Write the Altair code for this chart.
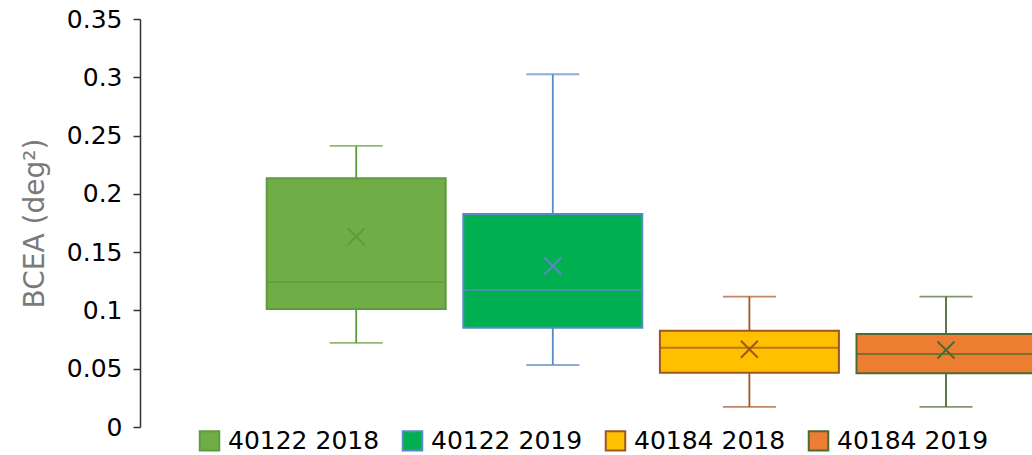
import altair as alt
import pandas as pd

# Box-plot statistics for each recording group
groups = ["40122 2018", "40122 2019", "40184 2018", "40184 2019"]
mins = [0.0721, 0.0532, 0.0172, 0.0172]
q1s = [0.1012, 0.0852, 0.0466, 0.0461]
medians = [0.1244, 0.1175, 0.0680, 0.0626]
q3s = [0.2133, 0.1827, 0.0826, 0.0798]
maxs = [0.2411, 0.3026, 0.1118, 0.1118]
means = [0.1633, 0.1381, 0.0667, 0.0661]

fill_colors = ["#70AD47", "#00B050", "#FFC000", "#ED7D31"]
stroke_colors = ["#5E9B3C", "#5A8AC6", "#A05523", "#4B6A35"]

y_ticks = [0, 0.05, 0.1, 0.15, 0.2, 0.25, 0.3, 0.35]

df = pd.DataFrame({
    "group": groups,
    "lo": mins,
    "q1": q1s,
    "median": medians,
    "q3": q3s,
    "hi": maxs,
    "mean": means,
})

FONT = "DejaVu Sans"

x_enc = alt.X(
    "group:N",
    sort=groups,
    axis=None,
    scale=alt.Scale(range=[126.7, 895.5], paddingInner=0.0895, paddingOuter=0),
)
y_scale = alt.Scale(domain=[0, 0.35], nice=False, zero=True)
y_axis = alt.Axis(
    values=y_ticks,
    format="~g",
    grid=False,
    domainColor="#333333",
    domainWidth=1.5,
    tickColor="#333333",
    tickWidth=1.5,
    tickSize=7,
    labelPadding=11,
    labelFont=FONT,
    labelFontSize=25,
    labelColor="#000000",
    title="BCEA (deg²)",
    titleFont=FONT,
    titleFontSize=28,
    titleFontWeight="normal",
    titleColor="#7a7a7a",
    titleAngle=270,
    titleX=-97,
    titleY=204,
    titleAlign="center",
    titleBaseline="alphabetic",
)

fill_scale = alt.Scale(domain=groups, range=fill_colors)
stroke_scale = alt.Scale(domain=groups, range=stroke_colors)

# whiskers, medians and means take the border colour of their box; they are
# coloured through a separate "edge" field so their scale stays out of the legend
line_color = alt.Color("edge:N", scale=alt.Scale(range=stroke_colors), legend=None)

legend = alt.Legend(
    orient="none",
    legendX=57,
    legendY=409,
    direction="horizontal",
    symbolType="square",
    symbolSize=380,
    symbolStrokeWidth=2,
    symbolOpacity=1,
    labelFont=FONT,
    labelFontSize=25,
    labelColor="#000000",
    labelOffset=6,
    labelLimit=400,
    columnPadding=18,
    padding=0,
)

base = alt.Chart(df)
lines_base = base.transform_calculate(edge="datum.group")

# whiskers from minimum to maximum, drawn under the boxes
whiskers = lines_base.mark_rule(strokeWidth=1.8, clip=True).encode(
    x=x_enc,
    y=alt.Y("lo:Q", scale=y_scale, axis=y_axis),
    y2="hi:Q",
    color=line_color,
)

boxes = base.mark_bar(strokeWidth=2, clip=True).encode(
    x=x_enc,
    y=alt.Y("q1:Q", scale=y_scale, axis=y_axis),
    y2="q3:Q",
    fill=alt.Fill("group:N", scale=fill_scale, legend=legend, title=None),
    stroke=alt.Stroke("group:N", scale=stroke_scale, legend=legend, title=None),
)

median_lines = lines_base.mark_tick(size=179, thickness=2, orient="horizontal", clip=True).encode(
    x=x_enc,
    y=alt.Y("median:Q", scale=y_scale, axis=y_axis),
    color=line_color,
)

low_caps = lines_base.mark_tick(size=53, thickness=1.8, orient="horizontal", clip=True).encode(
    x=x_enc,
    y=alt.Y("lo:Q", scale=y_scale, axis=y_axis),
    color=line_color,
)

high_caps = lines_base.mark_tick(size=53, thickness=1.8, orient="horizontal", clip=True).encode(
    x=x_enc,
    y=alt.Y("hi:Q", scale=y_scale, axis=y_axis),
    color=line_color,
)

mean_marks = lines_base.mark_point(
    shape="M-1,-1L1,1M1,-1L-1,1",
    size=289,
    filled=False,
    strokeWidth=2,
    opacity=1,
    clip=True,
).encode(
    x=x_enc,
    y=alt.Y("mean:Q", scale=y_scale, axis=y_axis),
    color=line_color,
)

chart = (
    alt.layer(whiskers, boxes, median_lines, low_caps, high_caps, mean_marks)
    .properties(
        width=892,
        height=408,
        autosize="none",
        padding={"left": 140, "top": 19, "right": 0, "bottom": 28},
        background="#ffffff",
    )
    .configure_view(stroke=None)
)

chart.save("out.html", embed_options={"renderer": "svg", "actions": False})
